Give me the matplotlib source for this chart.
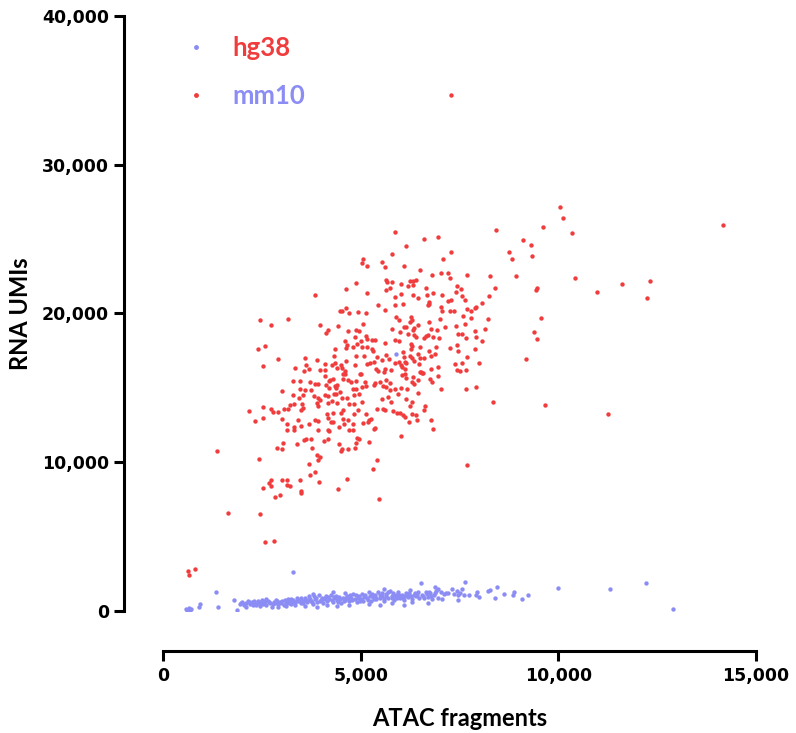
import matplotlib
matplotlib.use("Agg")
import matplotlib.pyplot as plt
from matplotlib.lines import Line2D
from matplotlib.ticker import FuncFormatter

# colours
RED = "#F03C3C"
BLUE = "#8C8CF5"

# hg38 cells: (ATAC fragments, RNA UMIs)
hg38_points = [
    (5870, 25500), (5800, 23980), (5070, 23660), (5030, 23420), (5150, 23220), (5540, 23490), (5620, 23100),
    (4880, 22060), (5650, 22280), (5660, 22100), (5790, 22140), (5740, 21690), (5650, 21590), (4620, 21630),
    (5170, 21360), (3850, 21250), (5880, 21090), (5440, 20580), (5860, 20580), (4630, 20400), (4470, 20200),
    (4540, 20180), (4700, 20040), (4930, 20110), (5140, 20000), (5610, 20240), (5900, 19750), (5960, 19570),
    (2450, 19550), (3160, 19660), (2720, 19210), (5050, 19300), (3980, 19210), (4170, 18860), (4120, 18700),
    (4420, 19170), (4680, 18810), (4880, 18920), (4960, 18810), (5780, 18940), (4850, 18450), (5140, 18470),
    (5170, 18300), (5290, 18250), (5350, 18250), (5020, 18180), (4610, 18120), (4650, 17870), (4620, 17700),
    (4910, 17960), (5040, 17780), (5170, 17760), (4360, 17630), (4800, 17780), (5290, 17630), (5310, 17470),
    (5610, 18000), (5860, 18250), (2410, 17630), (2590, 17830), (2900, 16930), (2530, 16490), (3580, 17020),
    (3350, 16310), (3620, 16570), (3690, 16260), (3570, 16130), (3890, 16890), (4100, 16620), (3960, 16170),
    (4110, 16170), (4330, 17110), (4270, 16570), (4340, 16660), (4390, 16330), (4500, 16510), (4540, 16330),
    (4630, 16780), (4550, 15950), (4610, 16130), (4890, 17160), (5080, 17160), (4860, 16510), (5170, 16620),
    (5230, 16690), (5340, 16710), (5420, 17070), (5540, 16890), (5650, 17180), (5720, 16960), (5400, 16260),
    (5450, 16150), (5610, 16280), (5590, 16060), (5770, 16220), (5000, 15900), (5870, 16690),
    (8430, 25610), (9610, 25790), (10340, 25430), (6610, 24980), (6960, 25120), (6140, 24560), (9100, 24960),
    (9320, 24630), (7290, 24140), (8750, 24160), (9340, 23870), (8820, 23670), (7090, 23640), (6100, 23170),
    (6510, 22900), (6800, 22610), (7020, 22700), (7200, 22750), (7250, 22390), (7700, 22600), (8260, 22550),
    (8940, 22550), (10410, 22410), (6020, 21990), (6250, 22210), (6320, 22210), (6390, 22280), (6320, 21940),
    (6190, 21830), (6640, 21720), (7440, 21880), (7550, 21650), (7420, 21470), (8400, 21740), (9450, 21690),
    (9430, 21560), (6020, 21320), (6330, 21230), (6460, 21020), (6680, 21230), (6830, 21360), (7060, 21270),
    (7290, 20910), (7220, 20870), (7560, 21200), (7650, 20910), (8250, 21180), (8070, 20690), (6070, 20650),
    (6720, 20800), (6740, 20650), (6700, 20600), (7020, 20420), (7050, 20200), (7270, 20200), (7350, 20200),
    (7700, 20330), (7790, 20150), (7900, 20380), (7920, 20470), (7600, 19820), (7780, 19700), (8210, 19660),
    (7010, 19660), (9570, 19700), (6280, 19750), (6300, 19530), (6260, 19420), (6730, 19440), (6100, 19080),
    (6150, 19120), (6350, 19050), (6330, 18920), (6460, 19260), (6000, 18770), (6190, 18630), (6790, 18940),
    (6940, 18920), (7140, 19060), (7400, 19170), (7630, 19300), (7900, 18840), (8150, 18970), (9390, 18770),
    (5980, 18160), (6350, 18540), (6390, 18450), (6600, 18360), (6640, 18470), (6710, 18570), (6830, 18410),
    (6970, 18360), (7460, 18590), (7570, 18590), (7910, 18450), (7660, 18320), (8070, 18160), (9470, 18300),
    (6270, 17960), (6310, 17830), (6280, 17630), (6500, 17740), (6720, 17470), (6910, 17780), (7270, 17690),
    (7440, 17890), (7450, 17510), (7880, 17610), (7690, 17070), (7990, 16690), (9190, 16910), (6070, 17380),
    (6090, 17070), (6110, 16760), (6150, 16690), (5980, 16730), (6030, 16570), (6250, 17110), (6310, 16980),
    (6360, 16840), (6450, 17290), (6510, 16980), (6590, 17020), (6770, 17110), (6880, 17250), (6470, 16620),
    (6510, 16060), (6560, 16020), (6770, 16260), (6950, 16400), (7380, 16620), (7560, 16660), (7430, 16200),
    (7520, 16130), (7670, 16170), (6040, 16400), (6130, 16240),
    (6050, 15860), (6110, 15900), (6140, 15680), (6320, 15720), (6300, 15410), (6340, 15280), (6460, 15550),
    (6530, 16040), (6570, 15990), (6760, 15590), (6800, 15410), (6950, 15770), (7030, 14920), (7670, 14940),
    (7930, 15030), (8360, 14070), (9660, 13870), (6030, 14960), (6170, 14940), (6140, 14250), (6460, 14650),
    (6310, 14050), (6250, 13760), (6630, 13810), (6600, 13540), (6410, 13150), (6420, 12860), (6290, 13260),
    (6000, 13310), (6070, 13200), (6120, 13040), (6230, 12680), (6770, 12820), (6840, 12260), (6030, 11790),
    (7690, 9820),
    (4110, 15790), (4230, 15550), (4310, 15570), (4190, 15430), (4610, 15900), (4990, 15900), (4550, 15570),
    (4680, 15550), (4870, 15430), (5120, 15390), (4760, 15390), (5370, 15340), (5500, 15390), (5650, 15550),
    (5750, 15320), (5340, 15170), (5560, 15100), (5650, 15050), (5730, 14830), (5870, 14920), (5950, 14560),
    (3300, 15460), (3470, 15430), (3710, 15390), (3840, 15280), (3930, 15280), (4120, 15170), (4360, 15100),
    (4380, 15010), (4410, 15170), (4190, 15010), (4810, 14940), (4870, 14900), (5030, 15050), (5130, 15100),
    (3460, 14900), (3600, 14830), (3540, 14520), (3020, 14790), (3300, 14500), (3310, 13940), (3210, 13870),
    (3070, 13560), (3170, 13600), (3450, 14320), (3510, 13940), (3530, 13670), (3490, 13490), (2530, 13710),
    (2720, 13560), (2770, 13380), (2920, 13380), (2180, 13470), (2330, 12770), (2530, 12970), (3020, 12880),
    (3420, 12860), (3750, 14830), (3810, 14430), (3920, 14340), (3980, 14210), (3900, 13980), (3920, 13760),
    (4090, 14540), (4180, 14430), (4320, 14610), (4380, 14560), (4170, 13980), (4280, 14090), (4390, 13980),
    (4470, 14720), (4540, 14340), (4650, 14340), (4710, 13940), (4550, 13490), (4500, 13310), (4830, 14500),
    (4960, 14560), (5030, 14050), (4830, 13890), (4940, 13540), (4820, 13220), (5130, 13260), (5220, 12820),
    (5270, 12930), (5340, 12260), (5420, 13600), (5540, 14270), (5570, 13600), (5620, 13490), (5700, 14380),
    (5760, 14050), (5820, 13420), (5920, 13310), (4550, 12930), (4690, 12860), (4570, 12590), (4440, 12370),
    (4180, 12970), (4240, 12700), (4290, 12700), (4310, 13290), (4140, 13220), (3840, 12820), (3920, 12770),
    (3690, 12570), (3910, 12190), (4170, 12190), (4200, 12100), (3140, 12550), (3130, 12190), (3310, 12370),
    (3320, 12190), (3480, 12440), (4700, 12190), (4810, 12190), (4810, 12590), (5060, 12640), (5190, 12680),
    (5360, 12300), (4900, 11630), (4950, 11590), (4870, 11300), (4850, 10960), (4540, 10920), (4670, 10870),
    (4490, 10740), (4440, 11210), (4080, 11430), (4170, 11590), (3570, 11470), (3610, 11590), (3750, 11590),
    (3400, 11210), (3760, 10990), (3040, 11300), (2890, 10960), (3000, 10920), (5200, 11370), (5420, 10130),
    (5310, 9550), (5470, 7540), (3900, 10520), (3980, 10360), (3910, 10180), (3690, 9910), (3840, 9350),
    (3710, 9170), (3950, 8700), (4650, 8880), (4430, 8170), (3470, 8840), (3480, 8070), (3500, 7940),
    (3000, 8810), (3140, 8810), (3130, 8450), (3200, 8390), (2740, 8840), (2680, 8610), (2720, 8390),
    (2530, 8250), (2950, 7780), (2840, 7670), (2420, 10200), (1370, 10760), (1650, 6620), (2450, 6510),
    (2580, 4610), (2810, 4680),
    (620, 2710), (660, 2420), (810, 2820), (10050, 27160), (10130, 26390), (14170, 25920), (10980, 21430),
    (11600, 21960), (12320, 22190), (12240, 21040), (11260, 13270), (7280, 34670),
]

# mm10 cells: (ATAC fragments, RNA UMIs)
mm10_points = [
    (570, 110), (610, 70), (660, 220), (710, 150), (680, 40), (900, 290), (940, 470), (1350, 1280),
    (1390, 250), (1790, 740), (1880, 70), (3280, 2600), (6530, 1860), (6870, 1590), (7640, 1970),
    (9990, 1570), (11300, 1500), (12220, 1880), (12890, 150), (5900, 17270),
    (7040, 1250), (7100, 1140), (7160, 1190), (7060, 790), (7220, 1190), (7320, 1460), (7370, 1140),
    (7430, 1360), (7460, 1070), (7500, 1230), (7560, 1480), (7460, 740), (7620, 1070), (7730, 1070),
    (7940, 1300), (7920, 1070), (8000, 960), (8220, 1340), (8280, 1410), (8450, 1630), (8410, 850),
    (8630, 1140), (8860, 1100), (8880, 1250), (9090, 810), (9230, 1050),
    (1950, 480), (2000, 620), (2050, 380), (2100, 540), (2150, 700), (2200, 450), (2250, 600), (2300, 520),
    (2350, 380), (2400, 650), (2450, 500), (2500, 720), (2100, 300), (2300, 700), (2450, 330),
    (2550, 560), (2600, 420), (2650, 680), (2700, 510), (2750, 300), (2800, 620), (2850, 740), (2900, 450),
    (2950, 580), (3000, 690), (3050, 400), (3100, 560), (3150, 800), (3200, 640), (3250, 480), (3300, 720),
    (3350, 590), (3400, 850), (2600, 780), (2900, 260), (3100, 330), (3350, 420),
    (3450, 640), (3500, 900), (3550, 520), (3600, 760), (3650, 610), (3700, 980), (3750, 700), (3800, 450),
    (3850, 820), (3900, 620), (3950, 1050), (4000, 740), (4050, 560), (4100, 900), (4150, 680), (4200, 800),
    (4250, 1100), (4300, 600), (4350, 850), (4400, 720), (4450, 950), (4500, 520), (4550, 880), (4600, 760),
    (4650, 1000), (4700, 640), (4750, 900), (4800, 1150), (4850, 780), (4900, 620), (4950, 980), (5000, 820),
    (3600, 330), (3900, 300), (4150, 410), (4400, 350), (4700, 420), (3800, 1150), (4300, 1250), (4600, 1200),
    (5050, 700), (5100, 1050), (5150, 880), (5200, 1250), (5250, 640), (5300, 950), (5350, 1100), (5400, 780),
    (5450, 1300), (5500, 900), (5550, 1020), (5600, 700), (5650, 1150), (5700, 860), (5750, 1350), (5800, 980),
    (5850, 760), (5900, 1100), (5950, 1250), (6000, 900), (6050, 1050), (6100, 720), (6150, 1200), (6200, 950),
    (6250, 1400), (6300, 820), (6350, 1100), (6400, 980), (6450, 1300), (5200, 450), (5500, 380), (5800, 520),
    (6100, 400), (6300, 600), (5600, 1450),
    (6550, 1100), (6600, 850), (6650, 1300), (6700, 950), (6750, 1200), (6800, 780), (6850, 1050),
    (6900, 1350), (6950, 900), (6700, 550), (6950, 1500),
    # second pass over the dense band
    (1980, 560), (2080, 450), (2180, 620), (2280, 420), (2380, 560), (2480, 610), (2580, 660), (2680, 590),
    (2780, 470), (2880, 680), (2980, 520), (3080, 740), (3180, 560), (3280, 620), (3380, 700), (3480, 560),
    (3580, 860), (3680, 720), (3780, 600), (3880, 900), (3980, 680), (4080, 780), (4180, 960), (4280, 720),
    (4380, 980), (4480, 800), (4580, 640), (4680, 900), (4780, 760), (4880, 1050), (4980, 700), (5080, 920),
    (5180, 760), (5280, 1120), (5380, 880), (5480, 1060), (5580, 840), (5680, 1260), (5780, 900), (5880, 1020),
    (5980, 1080), (6080, 880), (6180, 1100), (6280, 1020), (6380, 1200), (6480, 900), (6580, 1000),
    (6680, 1150), (6780, 1000), (6880, 1200), (2230, 510), (2530, 480), (2830, 560), (3130, 640), (3430, 760),
    (3730, 820), (4030, 880), (4330, 940), (4630, 860), (4930, 880), (5230, 1000), (5530, 1180), (5830, 1200),
    (6130, 1000), (6430, 1100), (6730, 1250), (3230, 830), (3530, 680), (3830, 1000), (4130, 1020),
    (4430, 620), (4730, 1080), (5030, 1160), (5330, 820), (5630, 980), (5930, 860), (6230, 1180),
]

x_ticks = [0, 5000, 10000, 15000]
y_ticks = [0, 10000, 20000, 30000, 40000]
legend_labels = ["hg38", "mm10"]

plt.rcParams["font.family"] = ["Lato", "DejaVu Sans"]
plt.rcParams["font.weight"] = "bold"

fig = plt.figure(figsize=(7.96, 7.33), dpi=100)
ax = fig.add_axes([163 / 796, 1 - 611 / 733, 593 / 796, 595 / 733])

hx, hy = zip(*hg38_points)
mx, my = zip(*mm10_points)
ax.scatter(hx, hy, s=10, color=RED, linewidths=0, zorder=2)
ax.scatter(mx, my, s=10, color=BLUE, linewidths=0, zorder=3)

ax.set_xlim(0, 15000)
ax.set_ylim(0, 40000)
ax.set_xticks(x_ticks)
ax.set_yticks(y_ticks)
ax.xaxis.set_major_formatter(FuncFormatter(lambda v, p: f"{int(v):,}"))
ax.yaxis.set_major_formatter(FuncFormatter(lambda v, p: f"{int(v):,}"))

# prism-like detached axes
for side in ["top", "right"]:
    ax.spines[side].set_visible(False)
ax.spines["left"].set_position(("outward", 28))
ax.spines["bottom"].set_position(("outward", 29))
ax.spines["left"].set_linewidth(2.2)
ax.spines["bottom"].set_linewidth(2.2)
ax.tick_params(width=2.2, length=7, labelsize=12.5, pad=4)
for lab in ax.get_xticklabels() + ax.get_yticklabels():
    lab.set_fontweight("bold")
    lab.set_fontfamily("DejaVu Sans")

ax.set_xlabel("ATAC fragments", fontsize=17, fontweight="bold", labelpad=16)
ax.set_ylabel("RNA UMIs", fontsize=17, fontweight="bold", labelpad=7)

# legend with swapped marker colours, as in the original
handles = [
    Line2D([], [], marker="o", ls="", color=BLUE, markersize=2.5),
    Line2D([], [], marker="o", ls="", color=RED, markersize=2.5),
]
ax.legend(handles, legend_labels, loc="upper left", bbox_to_anchor=(0.034, 0.967),
          frameon=False, labelcolor=[RED, BLUE], handlelength=1.0, handletextpad=0.9,
          borderpad=0, borderaxespad=0, labelspacing=0.95,
          prop={"size": 18.5, "weight": "bold"})

fig.savefig("out.png", dpi=100)
